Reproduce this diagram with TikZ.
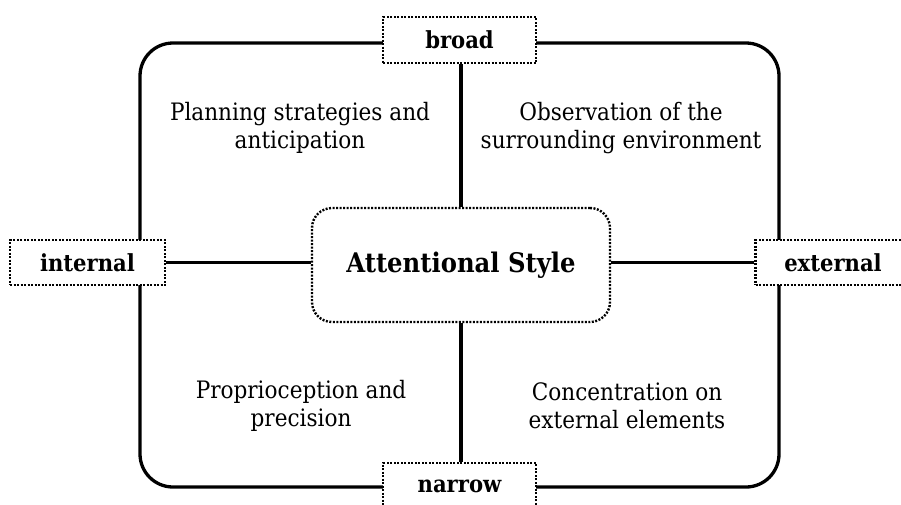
\documentclass[tikz,border=0pt]{standalone}
\usepackage{fontspec}
\setmainfont{DejaVu Serif Condensed}
\begin{document}
\begin{tikzpicture}[x=1pt,y=-1pt,
  frame/.style={line width=3.3pt, rounded corners=33pt},
  link/.style={line width=3.3pt},
  dotbox/.style={draw, fill=white, line width=2.4pt, dash pattern=on 2pt off 1.5pt,
                 inner sep=0pt, font=\fontsize{23.5}{28}\selectfont\bfseries},
  quad/.style={align=center, font=\fontsize{24}{28}\selectfont}]
  \useasboundingbox (0,0) rectangle (901,504);

  % outer frame
  \draw[frame] (140,43) rectangle (779,487);

  % pole boxes
  \node[dotbox, minimum width=153pt, minimum height=46pt] (broad) at (459.5,40) {broad};
  \node[dotbox, minimum width=153pt, minimum height=46pt] (narrow) at (459.5,486) {narrow};
  \node[dotbox, minimum width=155pt, minimum height=45pt] (internal) at (87.5,262.5) {internal};
  \node[dotbox, minimum width=155pt, minimum height=45pt] (external) at (833,262.5) {external};

  % central box
  \node[dotbox, rounded corners=20pt, minimum width=298pt, minimum height=114pt,
        font=\fontsize{27}{32}\selectfont\bfseries] (core) at (461,265) {Attentional Style};

  % axes
  \draw[link] (broad.south -| core.north) -- (core.north);
  \draw[link] (core.south) -- (narrow.north -| core.south);
  \draw[link] (internal.east) -- (core.west |- internal.east);
  \draw[link] (core.east |- external.west) -- (external.west);

  % quadrant texts
  \node[quad] (q1) at (300,128) {Planning strategies and\\anticipation};
  \node[quad] (q2) at (621,128) {Observation of the\\surrounding environment};
  \node[quad] (q3) at (301,406) {Proprioception and\\precision};
  \node[quad] (q4) at (627,406) {Concentration on\\external elements};
\end{tikzpicture}
\end{document}
